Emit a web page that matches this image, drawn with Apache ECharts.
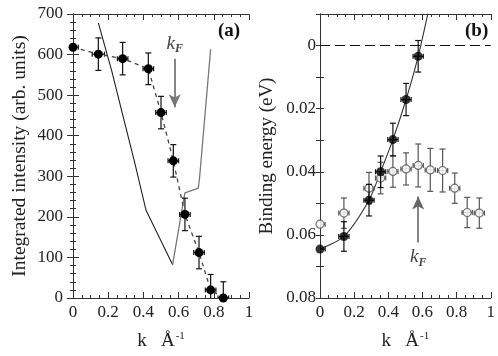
<!DOCTYPE html>
<html>
<head>
<meta charset="utf-8">
<script src="https://cdn.jsdelivr.net/npm/echarts@6/dist/echarts.min.js"></script>
<style>
  html, body { margin: 0; padding: 0; background: #fff; }
  #chart { width: 498px; height: 356px; }
</style>
</head>
<body>
<div id="chart"></div>
<script>
// panel (a): integrated intensity vs k
const kA = [0, 0.144, 0.282, 0.428, 0.5, 0.57, 0.636, 0.716, 0.782, 0.854];
const intA = [618, 601, 590, 565, 457, 338, 206, 112, 20, 0];
const intErrA = [0, 40, 40, 39, 40, 40, 40, 40, 38, 40];
const kErrA = [0.03, 0.035, 0.03, 0.03, 0.03, 0.03, 0.03, 0.03, 0.03, 0.03];
// model curves in (a)
const leftK = [0.144, 0.22, 0.286, 0.35, 0.415, 0.566];
const leftI = [678, 560, 445, 335, 216, 82];
const rightK = [0.566, 0.63, 0.636, 0.712, 0.72, 0.782];
const rightI = [82, 245, 259, 271, 300, 613];

// panel (b): binding energy vs k
const kFilled = [0, 0.14, 0.287, 0.355, 0.427, 0.504, 0.575];
const eFilled = [0.0645, 0.0605, 0.049, 0.040, 0.0298, 0.0171, 0.0034];
const eFilledErr = [0, 0.0047, 0.005, 0.005, 0.0052, 0.0051, 0.005];
const kOpen = [0, 0.14, 0.287, 0.355, 0.427, 0.504, 0.575, 0.646, 0.718, 0.789, 0.862, 0.933];
const eOpen = [0.0566, 0.0531, 0.0452, 0.042, 0.0399, 0.0391, 0.038, 0.0394, 0.0396, 0.0452, 0.0529, 0.0531];
const eOpenErr = [0, 0.0048, 0.005, 0.005, 0.005, 0.0051, 0.0068, 0.0068, 0.0068, 0.0048, 0.0048, 0.0048];
const kErrB = 0.03;
const fitK = [0, 0.14, 0.287, 0.355, 0.427, 0.504, 0.575, 0.632];
const fitE = [0.0645, 0.0605, 0.049, 0.040, 0.0298, 0.0171, 0.0034, -0.0102];

const kF = 0.578;

const serif = 'Liberation Serif';
const zip = (a, b) => a.map((v, i) => [v, b[i]]);

const chart = echarts.init(document.getElementById('chart'));

function errBars(color) {
  return function (params, api) {
    const x = api.value(0), y = api.value(1), dx = api.value(2), dy = api.value(3);
    const c = api.coord([x, y]);
    const st = { stroke: color, lineWidth: 1.2 };
    const kids = [];
    if (dy > 0) {
      const t = api.coord([x, y + dy]), b = api.coord([x, y - dy]);
      kids.push({ type: 'line', shape: { x1: c[0], y1: t[1], x2: c[0], y2: b[1] }, style: st });
      kids.push({ type: 'line', shape: { x1: c[0] - 3, y1: t[1], x2: c[0] + 3, y2: t[1] }, style: st });
      kids.push({ type: 'line', shape: { x1: c[0] - 3, y1: b[1], x2: c[0] + 3, y2: b[1] }, style: st });
    }
    if (dx > 0) {
      const l = api.coord([x - dx, y]), r = api.coord([x + dx, y]);
      kids.push({ type: 'line', shape: { x1: l[0], y1: c[1], x2: r[0], y2: c[1] }, style: st });
      kids.push({ type: 'line', shape: { x1: l[0], y1: c[1] - 2.5, x2: l[0], y2: c[1] + 2.5 }, style: st });
      kids.push({ type: 'line', shape: { x1: r[0], y1: c[1] - 2.5, x2: r[0], y2: c[1] + 2.5 }, style: st });
    }
    return { type: 'group', children: kids };
  };
}

const tickStyle = { lineStyle: { color: '#333', width: 1 } };
function xAx(grid, pos, showLabel, name) {
  return {
    type: 'value', gridIndex: grid, position: pos, min: 0, max: 1, interval: 0.2,
    axisLine: { show: true, onZero: false, lineStyle: { color: '#333', width: 1 } },
    axisTick: { show: true, inside: true, length: 6, ...tickStyle },
    minorTick: { show: true, splitNumber: 4, length: 3, ...tickStyle },
    splitLine: { show: false },
    axisLabel: { show: showLabel, margin: 6, color: '#222', fontFamily: serif, fontSize: 17,
      formatter: v => String(Math.round(v * 10) / 10) },
    name: name || '', nameLocation: 'middle', nameGap: 33,
    nameTextStyle: {
      fontFamily: serif, fontSize: 19, color: '#222',
      rich: {
        n: { fontFamily: serif, fontSize: 19, color: '#222' },
        s: { fontFamily: serif, fontSize: 11, color: '#222', verticalAlign: 'top', padding: [0, 0, 10, 1] }
      }
    }
  };
}

const kName = '{n|k   Å}{s|-1}';

const option = {
  animation: false,
  backgroundColor: '#fff',
  grid: [
    { left: 73, top: 14, width: 176, height: 286 },
    { left: 320, top: 14, width: 174, height: 284 }
  ],
  xAxis: [
    xAx(0, 'bottom', true, kName),
    xAx(0, 'top', false),
    xAx(1, 'bottom', true, kName),
    xAx(1, 'top', false)
  ],
  yAxis: [
    {
      type: 'value', gridIndex: 0, position: 'left', min: 0, max: 700, interval: 100,
      axisLine: { show: true, lineStyle: { color: '#333', width: 1 } },
      axisTick: { show: true, inside: true, length: 6, ...tickStyle },
      minorTick: { show: true, splitNumber: 5, length: 3, ...tickStyle },
      splitLine: { show: false },
      axisLabel: { margin: 10, color: '#222', fontFamily: serif, fontSize: 17 },
      name: 'Integrated intensity (arb. units)', nameLocation: 'middle', nameGap: 43,
      nameTextStyle: { fontFamily: serif, fontSize: 19.5, color: '#222' }
    },
    {
      type: 'value', gridIndex: 0, position: 'right', min: 0, max: 700, interval: 100,
      axisLine: { show: true, lineStyle: { color: '#333', width: 1 } },
      axisTick: { show: true, inside: true, length: 6, ...tickStyle },
      minorTick: { show: true, splitNumber: 5, length: 3, ...tickStyle },
      splitLine: { show: false }, axisLabel: { show: false }
    },
    {
      type: 'value', gridIndex: 1, position: 'left', inverse: true, min: -0.01, max: 0.08, interval: 0.01,
      axisLine: { show: true, lineStyle: { color: '#555', width: 1 } },
      axisTick: { show: true, inside: true, length: 4, ...tickStyle },
      splitLine: { show: false },
      axisLabel: {
        margin: 4, color: '#222', fontFamily: serif, fontSize: 17,
        formatter: v => {
          const n = Math.round(v * 100);
          if (n < 0 || n % 2 !== 0) return '';
          return n === 0 ? '0' : (n / 100).toFixed(2);
        }
      },
      name: 'Binding energy (eV)', nameLocation: 'middle', nameGap: 43,
      nameTextStyle: { fontFamily: serif, fontSize: 19, color: '#222' }
    },
    {
      type: 'value', gridIndex: 1, position: 'right', inverse: true, min: -0.01, max: 0.08, interval: 0.01,
      axisLine: { show: true, lineStyle: { color: '#333', width: 1 } },
      axisTick: { show: true, inside: true, length: 4, ...tickStyle },
      splitLine: { show: false }, axisLabel: { show: false }
    }
  ],
  series: [
    // (a) model curves
    {
      type: 'line', xAxisIndex: 0, yAxisIndex: 0, data: zip(leftK, leftI),
      symbol: 'none', lineStyle: { color: '#222', width: 1.1 }, z: 2
    },
    {
      type: 'line', xAxisIndex: 0, yAxisIndex: 0, data: zip(rightK, rightI),
      symbol: 'none', lineStyle: { color: '#777', width: 1.3 }, z: 2
    },
    // (a) error bars
    {
      type: 'custom', xAxisIndex: 0, yAxisIndex: 0, clip: true, z: 3,
      renderItem: errBars('#111'),
      data: kA.map((k, i) => [k, intA[i], kErrA[i], intErrA[i]])
    },
    // (a) data points + dashed connector
    {
      type: 'line', xAxisIndex: 0, yAxisIndex: 0, data: zip(kA, intA),
      symbol: 'circle', symbolSize: 9, itemStyle: { color: '#000' },
      lineStyle: { color: '#444', width: 1.3, type: [4, 4] }, z: 4,
      markLine: {
        silent: true, symbol: ['none', 'arrow'], symbolSize: [9, 13],
        lineStyle: { color: '#777', width: 1.8, type: 'solid' },
        label: {
          show: true, position: 'start', distance: 4,
          formatter: '{k|k}{f|F}',
          rich: {
            k: { fontFamily: serif, fontStyle: 'italic', fontSize: 19, color: '#444' },
            f: { fontFamily: serif, fontStyle: 'italic', fontWeight: 'bold', fontSize: 12, color: '#444', padding: [10, 0, 0, 0] }
          }
        },
        data: [[{ coord: [kF, 590] }, { coord: [kF, 470] }]]
      }
    },
    // (b) fit line through filled points
    {
      type: 'line', xAxisIndex: 2, yAxisIndex: 2, data: zip(fitK, fitE), smooth: 0.25,
      symbol: 'none', lineStyle: { color: '#333', width: 1.1 }, z: 2,
      markLine: {
        silent: true, symbol: 'none',
        lineStyle: { color: '#111', width: 1.2, type: [10, 5] },
        label: { show: false },
        data: [{ yAxis: 0 }]
      }
    },
    // (b) open-circle error bars and points
    {
      type: 'custom', xAxisIndex: 2, yAxisIndex: 2, clip: true, z: 3,
      renderItem: errBars('#555'),
      data: kOpen.map((k, i) => [k, eOpen[i], kErrB, eOpenErr[i]])
    },
    {
      type: 'scatter', xAxisIndex: 2, yAxisIndex: 2, data: zip(kOpen, eOpen),
      symbol: 'circle', symbolSize: 8, z: 4,
      itemStyle: { color: '#fff', borderColor: '#555', borderWidth: 1.2 },
      markLine: {
        silent: true, symbol: ['none', 'arrow'], symbolSize: [9, 13],
        lineStyle: { color: '#666', width: 1.6, type: 'solid' },
        label: {
          show: true, position: 'start', distance: 4,
          formatter: '{k|k}{f|F}',
          rich: {
            k: { fontFamily: serif, fontStyle: 'italic', fontSize: 19, color: '#444' },
            f: { fontFamily: serif, fontStyle: 'italic', fontWeight: 'bold', fontSize: 12, color: '#444', padding: [10, 0, 0, 0] }
          }
        },
        data: [[{ coord: [0.575, 0.0624] }, { coord: [0.575, 0.0478] }]]
      }
    },
    // (b) filled points
    {
      type: 'custom', xAxisIndex: 2, yAxisIndex: 2, clip: true, z: 5,
      renderItem: errBars('#111'),
      data: kFilled.map((k, i) => [k, eFilled[i], kErrB, eFilledErr[i]])
    },
    {
      type: 'scatter', xAxisIndex: 2, yAxisIndex: 2, data: zip(kFilled, eFilled),
      symbol: 'circle', symbolSize: 9, itemStyle: { color: '#000' }, z: 6
    }
  ],
  graphic: [
    { type: 'text', left: 218, top: 22, style: { text: '(a)', font: 'bold 19px "Liberation Serif"', fill: '#111' } },
    { type: 'text', left: 465, top: 22, style: { text: '(b)', font: 'bold 19px "Liberation Serif"', fill: '#111' } }
  ]
};

chart.setOption(option);
</script>
</body>
</html>
